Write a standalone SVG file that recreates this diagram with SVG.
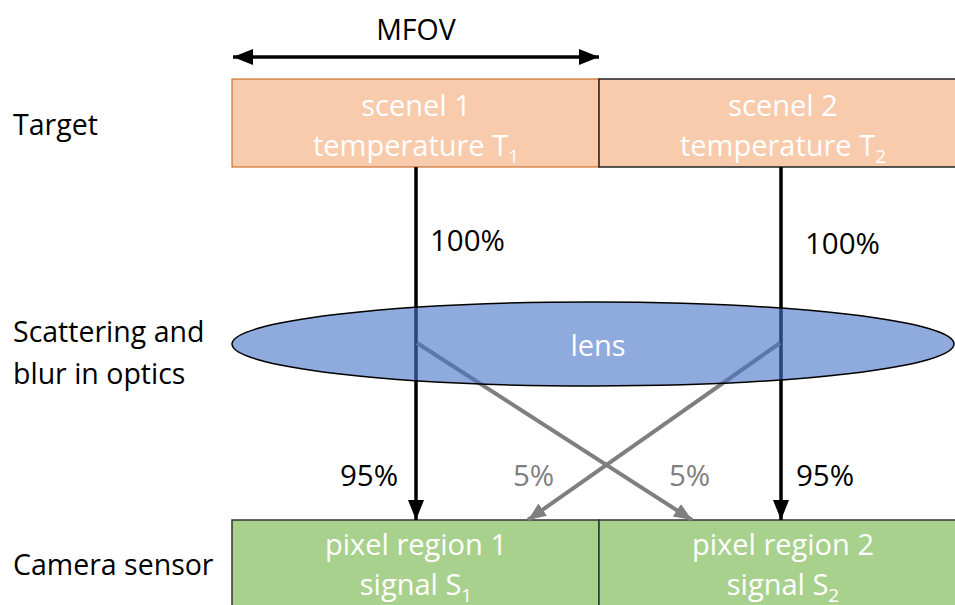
<svg xmlns="http://www.w3.org/2000/svg" width="955" height="605" viewBox="0 0 955 605">
<defs>
<style>
.lbl{font-family:"Open Sans","Liberation Sans",sans-serif;font-size:28.5px;fill:#000}
.wt{font-family:"Open Sans","Liberation Sans",sans-serif;font-size:29px;fill:#fff;text-anchor:middle}
.pct{font-family:"Open Sans","Liberation Sans",sans-serif;font-size:29.5px;fill:#000}
.gp{font-family:"Open Sans","Liberation Sans",sans-serif;font-size:29.5px;fill:#7f7f7f}
.blk{stroke:#000;stroke-width:3.5;fill:none}
.gry{stroke:#7f7f7f;stroke-width:4;fill:none}
.sub{font-size:19px}
</style>
<marker id="ab" viewBox="0 0 20 16" refX="20" refY="8" markerWidth="20" markerHeight="16" markerUnits="userSpaceOnUse" orient="auto-start-reverse"><path d="M0,0 L20,8 L0,16 z" fill="#000"/></marker>
<marker id="ag" viewBox="0 0 18 15" refX="18" refY="7.5" markerWidth="18" markerHeight="15" markerUnits="userSpaceOnUse" orient="auto"><path d="M0,0 L18,7.5 L0,15 z" fill="#7f7f7f"/></marker>
</defs>
<rect width="955" height="605" fill="#fff"/>
<g id="labels">
<text class="lbl" x="13" y="135">Target</text>
<text class="lbl" x="13" y="342">Scattering and</text>
<text class="lbl" x="13" y="384">blur in optics</text>
<text class="lbl" x="13" y="575">Camera sensor</text>
</g>
<g id="mfov">
<text class="lbl" x="416" y="40" text-anchor="middle">MFOV</text>
<line class="blk" x1="233" y1="57" x2="599" y2="57" marker-start="url(#ab)" marker-end="url(#ab)"/>
</g>
<g id="scenel1">
<rect x="232" y="79" width="367" height="88" fill="#f8cbad" stroke="#c55a11" stroke-width="1"/>
<text class="wt" x="416" y="116">scenel 1</text>
<text class="wt" x="416" y="156">temperature T<tspan class="sub" dy="7">1</tspan></text>
</g>
<g id="scenel2">
<rect x="599" y="79" width="370" height="88" fill="#f8cbad" stroke="#222" stroke-width="1.5"/>
<text class="wt" x="783" y="116">scenel 2</text>
<text class="wt" x="783" y="156">temperature T<tspan class="sub" dy="7">2</tspan></text>
</g>
<g id="pixel1">
<rect x="232" y="520" width="367" height="100" fill="#a9d18e" stroke="#333" stroke-width="1.5"/>
<text class="wt" x="416" y="555">pixel region 1</text>
<text class="wt" x="416" y="595">signal S<tspan class="sub" dy="7">1</tspan></text>
</g>
<g id="pixel2">
<rect x="599" y="520" width="370" height="100" fill="#a9d18e" stroke="#333" stroke-width="1.5"/>
<text class="wt" x="783" y="555">pixel region 2</text>
<text class="wt" x="783" y="595">signal S<tspan class="sub" dy="7">2</tspan></text>
</g>
<g id="connectors">
<line class="blk" x1="416" y1="167" x2="416" y2="520" marker-end="url(#ab)"/>
<line class="blk" x1="781" y1="167" x2="781" y2="520" marker-end="url(#ab)"/>
<line class="gry" x1="417" y1="343" x2="692" y2="520" marker-end="url(#ag)"/>
<line class="gry" x1="780" y1="343" x2="528" y2="520" marker-end="url(#ag)"/>
</g>
<g id="lens">
<ellipse cx="593" cy="344" rx="361" ry="42" fill="#4472c4" fill-opacity="0.6" stroke="#000" stroke-width="1.5"/>
<text class="wt" x="598" y="356">lens</text>
</g>
<g id="pcts">
<text class="pct" x="430" y="251">100%</text>
<text class="pct" x="805" y="254">100%</text>
<text class="pct" x="340" y="486">95%</text>
<text class="pct" x="796" y="486">95%</text>
<text class="gp" x="513" y="486">5%</text>
<text class="gp" x="669" y="486">5%</text>
</g>
</svg>
